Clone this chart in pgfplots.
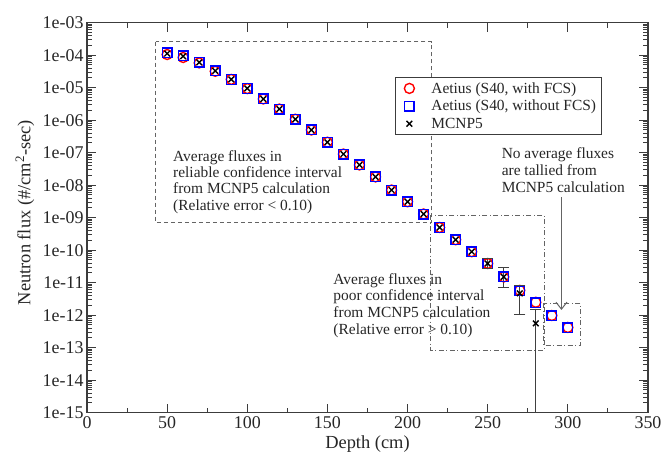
\documentclass[border=0pt]{standalone}
\usepackage{fontspec}
\setmainfont{Liberation Serif}
\usepackage{pgfplots}
\pgfplotsset{compat=1.18}
\usetikzlibrary{arrows.meta}
\definecolor{axgray}{RGB}{60,60,60}
\definecolor{boxgray}{RGB}{100,100,100}

\pgfplotstableread{
x circ sq
50 1.05e-4 1.2e-4
60 8.5e-5 9.6e-5
70 5.8e-5 6.1e-5
80 3.2e-5 3.3e-5
90 1.8e-5 1.8e-5
100 9.4e-6 9.5e-6
110 4.5e-6 4.5e-6
120 2.2e-6 2.2e-6
130 1.07e-6 1.07e-6
140 5.0e-7 5.0e-7
150 2.1e-7 2.1e-7
160 9.1e-8 9.1e-8
170 4.2e-8 4.2e-8
180 1.8e-8 1.8e-8
190 7.1e-9 7.1e-9
200 3.1e-9 3.1e-9
210 1.3e-9 1.3e-9
220 5.0e-10 5.0e-10
230 2.1e-10 2.1e-10
240 9.0e-11 9.0e-11
250 3.9e-11 3.9e-11
260 1.5e-11 1.5e-11
270 5.8e-12 5.6e-12
280 2.5e-12 2.4e-12
290 9.8e-13 9.6e-13
300 4.2e-13 4.1e-13
}\aetius

\pgfplotstableread{
x y
50 1.12e-4
60 9.3e-5
70 6.0e-5
80 3.3e-5
90 1.8e-5
100 9.5e-6
110 4.5e-6
120 2.2e-6
130 1.07e-6
140 5.0e-7
150 2.1e-7
160 9.1e-8
170 4.2e-8
180 1.8e-8
190 7.1e-9
200 3.1e-9
210 1.3e-9
220 5.0e-10
230 2.1e-10
240 9.0e-11
250 3.9e-11
260 1.5e-11
270 4.7e-12
280 5.6e-13
}\mcnp

\begin{document}
\begin{tikzpicture}
\begin{axis}[
  scale only axis, width=561bp, height=390bp,
  xmin=0, xmax=350, ymode=log, ymin=1e-15, ymax=1e-3,
  xtick={0,50,...,350}, minor x tick num=1,
  ytick={1e-15,1e-14,1e-13,1e-12,1e-11,1e-10,1e-9,1e-8,1e-7,1e-6,1e-5,1e-4,1e-3},
  yticklabels={1e-15,1e-14,1e-13,1e-12,1e-11,1e-10,1e-09,1e-08,1e-07,1e-06,1e-05,1e-04,1e-03},
  minor ytick={2e-15,3e-15,4e-15,5e-15,6e-15,7e-15,8e-15,9e-15,
    2e-14,3e-14,4e-14,5e-14,6e-14,7e-14,8e-14,9e-14,
    2e-13,3e-13,4e-13,5e-13,6e-13,7e-13,8e-13,9e-13,
    2e-12,3e-12,4e-12,5e-12,6e-12,7e-12,8e-12,9e-12,
    2e-11,3e-11,4e-11,5e-11,6e-11,7e-11,8e-11,9e-11,
    2e-10,3e-10,4e-10,5e-10,6e-10,7e-10,8e-10,9e-10,
    2e-9,3e-9,4e-9,5e-9,6e-9,7e-9,8e-9,9e-9,
    2e-8,3e-8,4e-8,5e-8,6e-8,7e-8,8e-8,9e-8,
    2e-7,3e-7,4e-7,5e-7,6e-7,7e-7,8e-7,9e-7,
    2e-6,3e-6,4e-6,5e-6,6e-6,7e-6,8e-6,9e-6,
    2e-5,3e-5,4e-5,5e-5,6e-5,7e-5,8e-5,9e-5,
    2e-4,3e-4,4e-4,5e-4,6e-4,7e-4,8e-4,9e-4},
  /pgf/number format/assume math mode=true,
  tick label style={font=\fontsize{18}{20}\selectfont, text=black!85},
  axis line style={axgray, line width=1.3bp},
  every tick/.style={axgray, line width=1bp},
  major tick length=9bp, minor tick length=5bp,
  tick align=inside,
  xlabel={Depth (cm)},
  ylabel={Neutron flux (\#/cm\textsuperscript{2}-sec)},
  label style={font=\fontsize{18.5}{20}\selectfont, text=black!85},
  xlabel style={at={(axis description cs:0.5,0)}, anchor=base, yshift=-36bp},
  ylabel style={at={(axis description cs:-0.1105,0.513)}, anchor=center},
  legend style={at={(rel axis cs:0.549,0.861)}, anchor=north west, draw=axgray,
    line width=0.8bp, font=\fontsize{15.5}{17}\selectfont, inner sep=3bp, row sep=1.6bp,
    text=black!85},
  legend cell align=left,
  legend image code/.code={\path[draw=none,fill=none] (-11bp,0bp) -- (20bp,0bp); \draw plot coordinates {(0bp,0bp)};},
]
\addplot[only marks, mark=o, red, mark size=5bp, line width=1.4bp] table[x=x, y=circ] {\aetius};
\addlegendentry{Aetius (S40, with FCS)}
\addplot[only marks, mark=square, blue, mark size=4.8bp, line width=1.4bp] table[x=x, y=sq] {\aetius};
\addlegendentry{Aetius (S40, without FCS)}
\addplot[forget plot, black!75, line width=1bp, mark=-, mark size=5.5bp, mark options={solid}] coordinates {(250,5.4e-11) (250,2.8e-11)};
\addplot[forget plot, black!75, line width=1bp, mark=-, mark size=5.5bp, mark options={solid}] coordinates {(260,2.9e-11) (260,7.2e-12)};
\addplot[forget plot, black!75, line width=1bp, mark=-, mark size=5.5bp, mark options={solid}] coordinates {(270,8.0e-12) (270,1.07e-12)};
\addplot[forget plot, black!75, line width=1bp, mark=-, mark size=5.5bp, mark indices={1}, mark options={solid}] coordinates {(280,1.45e-12) (280,1e-16)};
\addplot[only marks, mark=x, black, mark size=4bp, line width=1.4bp] table[x=x, y=y] {\mcnp};
\addlegendentry{MCNP5}

\draw[boxgray, line width=1bp, dash pattern=on 4bp off 3bp] (axis cs:43,2.6e-4) rectangle (axis cs:215,7e-10);
\draw[boxgray, line width=1bp, dash pattern=on 5bp off 2.5bp on 1bp off 2.5bp] (axis cs:214.5,1.2e-9) rectangle (axis cs:285.2,8.5e-14);
\draw[boxgray, line width=1bp, dash pattern=on 5bp off 2.5bp on 1bp off 2.5bp] (axis cs:284.7,2.3e-12) rectangle (axis cs:308,1.2e-13);
\draw[boxgray, line width=1bp, -{Straight Barb[length=7bp,width=11bp]}] (axis cs:296,4.3e-9) -- (axis cs:296,1.45e-12);

\node[anchor=north west, inner sep=0pt, align=left, font=\fontsize{15.5}{16.5}\selectfont, text=black!85]
  at (rel axis cs:0.1533,0.6736) {Average fluxes in\\reliable confidence interval\\from MCNP5 calculation\\(Relative error < 0.10)};
\node[anchor=north west, inner sep=0pt, align=left, font=\fontsize{15.5}{16.7}\selectfont, text=black!85]
  at (rel axis cs:0.439,0.358) {Average fluxes in\\poor confidence interval\\from MCNP5 calculation\\(Relative error > 0.10)};
\node[anchor=north west, inner sep=0pt, align=left, font=\fontsize{15.5}{17.3}\selectfont, text=black!85]
  at (rel axis cs:0.739,0.681) {No average fluxes\\are tallied from\\MCNP5 calculation};
\end{axis}
\pgfresetboundingbox
\path[use as bounding box] (-87bp,-40.3bp) rectangle (578bp,412.7bp);
\end{tikzpicture}
\end{document}
